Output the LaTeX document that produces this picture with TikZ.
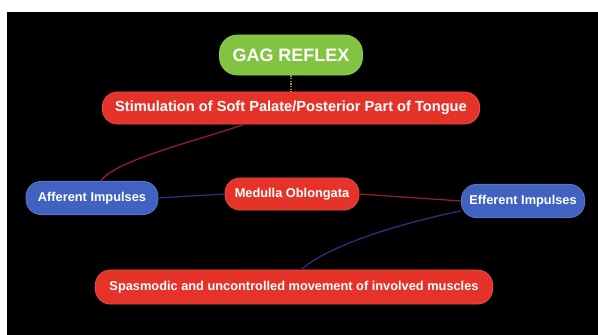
\documentclass[tikz,border=0pt]{standalone}
\usepackage{fontspec}
\setmainfont{Liberation Sans}
\usepackage{xcolor}
\usetikzlibrary{positioning}

\definecolor{gagred}{HTML}{E5332A}
\definecolor{gagblue}{HTML}{4262C2}
\definecolor{gaggreen}{HTML}{82C341}
\definecolor{linkred}{HTML}{8E2226}
\definecolor{linkblue}{HTML}{2A3380}
\definecolor{linkgold}{HTML}{B8923A}

\begin{document}
\begin{tikzpicture}[x=0.025cm,y=-0.025cm,
  box/.style={rounded corners=0.38cm,text=white,inner sep=0pt,align=center,
    font=\bfseries\fontsize{9.1}{11}\selectfont,line width=0.6pt},
  redbox/.style={box,fill=gagred,draw=gagred!88!white},
  bluebox/.style={box,fill=gagblue,draw=gagblue!88!white},
  greenbox/.style={box,fill=gaggreen,draw=gaggreen!90!white,rounded corners=0.45cm},
  link/.style={line width=0.9pt}]
  % page and dark panel
  \fill[white] (0,0) rectangle (598,335);
  \fill[black] (7,12) rectangle (598,335);

  % boxes
  \node[greenbox,minimum width=3.575cm,minimum height=1cm,
    font=\bfseries\fontsize{12.8}{15}\selectfont] (gag) at (291,55) {GAG REFLEX};
  \node[redbox,minimum width=9.43cm,minimum height=0.8cm,
    font=\bfseries\fontsize{10.4}{12}\selectfont] (stim) at (291,108)
    {Stimulation of Soft Palate/Posterior Part of Tongue};
  \node[bluebox,minimum width=3.3cm,minimum height=0.83cm] (aff) at (92,198) {Afferent Impulses};
  \node[redbox,minimum width=3.35cm,minimum height=0.8cm] (med) at (292,194) {Medulla Oblongata};
  \node[bluebox,minimum width=3.08cm,minimum height=0.83cm] (eff) at (523,201) {Efferent Impulses};
  \node[redbox,minimum width=9.93cm,minimum height=0.85cm] (spas) at (294,287)
    {Spasmodic and uncontrolled movement of involved muscles};

  % links
  \draw[link,linkgold,densely dotted] (gag) -- (stim);
  \draw[link,linkred] ([xshift=-1.18cm]stim.south) .. controls (200,140) and (115,160) .. ([xshift=0.22cm]aff.north);
  \draw[link,linkblue] (aff.east) -- (med.west);
  \draw[link,linkred] (med.east) -- (eff.west);
  \draw[link,linkblue] ([yshift=-0.25cm]eff.west) .. controls (425,218) and (335,240) .. ([xshift=0.18cm]spas.north);
\end{tikzpicture}
\end{document}
